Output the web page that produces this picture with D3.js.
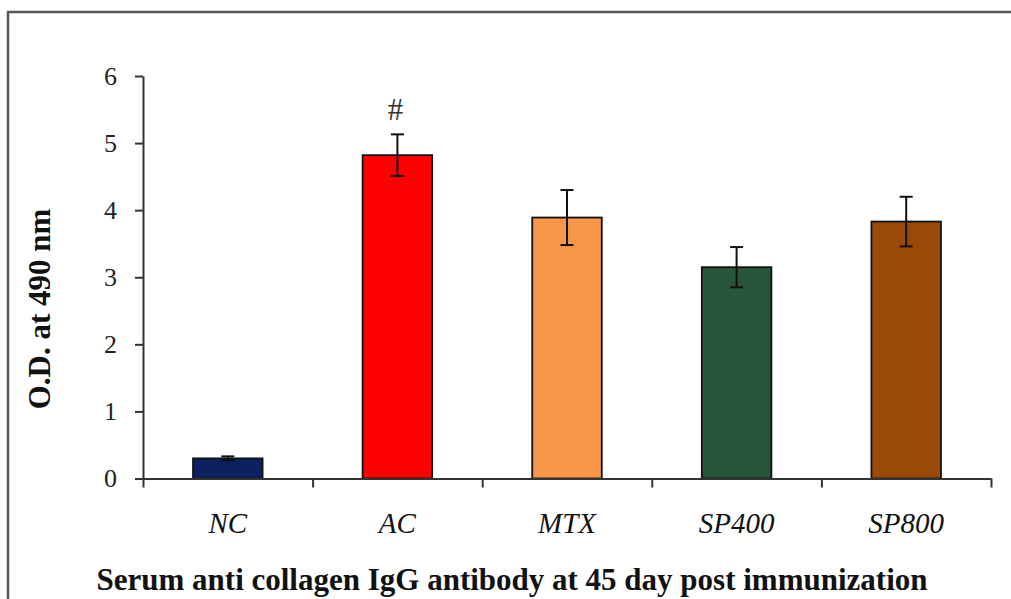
<!DOCTYPE html>
<html lang="en">
<head>
    <meta charset="UTF-8">
    <title>Serum anti collagen IgG antibody</title>
    <script src="https://d3js.org/d3.v7.min.js"></script>
    <style>
        body { margin: 0; background: #fff; }
    </style>
</head>
<body>
    <svg id="chart"></svg>

    <script>
      // data
      var categories = ["NC", "AC", "MTX", "SP400", "SP800"];
      var values = [0.30, 4.82, 3.89, 3.15, 3.83];
      var errors = [0.03, 0.31, 0.41, 0.30, 0.37];
      var marks = ["", "#", "", "", ""];
      var barColors = ["#0b2160", "#ff0000", "#f79646", "#27563a", "#9a4a08"];
      var yTicks = [0, 1, 2, 3, 4, 5, 6];

      var width = 1011, height = 599;
      // plot area (window.top is read-only, so no "top" here)
      var plotLeft = 143, plotRight = 991, plotTop = 76, plotBottom = 478.5;

      var svg = d3.select("#chart")
          .attr("width", width)
          .attr("height", height);

      // outer frame (right and bottom edges fall outside the picture)
      svg.append("rect")
          .attr("x", 8).attr("y", 12)
          .attr("width", 1100).attr("height", 700)
          .attr("fill", "none")
          .attr("stroke", "#555")
          .attr("stroke-width", 2.5);

      var x = d3.scaleBand()
          .domain(categories)
          .range([plotLeft, plotRight])
          .paddingInner(0.59)
          .paddingOuter(0.295);

      var y = d3.scaleLinear()
          .domain([0, 6])
          .range([plotBottom, plotTop]);

      // y axis
      var yAxis = svg.append("g")
          .attr("transform", "translate(" + plotLeft + ",0)")
          .call(d3.axisLeft(y).tickValues(yTicks).tickFormat(d3.format("d"))
              .tickSize(8).tickSizeOuter(0).tickPadding(18));
      yAxis.select(".domain").attr("stroke", "#333").attr("stroke-width", 2);
      yAxis.selectAll(".tick line").attr("stroke", "#333").attr("stroke-width", 2);
      yAxis.selectAll(".tick text")
          .attr("font-family", "'Liberation Serif', serif")
          .attr("font-size", 26)
          .attr("fill", "#222");

      // bars
      svg.selectAll(".bar")
          .data(categories)
        .enter().append("rect")
          .attr("class", "bar")
          .attr("x", function (d) { return x(d); })
          .attr("y", function (d, i) { return y(values[i]); })
          .attr("width", x.bandwidth())
          .attr("height", function (d, i) { return y(0) - y(values[i]); })
          .attr("fill", function (d, i) { return barColors[i]; })
          .attr("stroke", "#111")
          .attr("stroke-width", 1.8);

      // error bars
      var err = svg.selectAll(".err")
          .data(categories)
        .enter().append("g")
          .attr("class", "err")
          .attr("stroke", "#111")
          .attr("stroke-width", 2);
      err.append("line")
          .attr("x1", function (d) { return x(d) + x.bandwidth() / 2; })
          .attr("x2", function (d) { return x(d) + x.bandwidth() / 2; })
          .attr("y1", function (d, i) { return y(values[i] + errors[i]); })
          .attr("y2", function (d, i) { return y(values[i] - errors[i]); });
      err.append("line")
          .attr("x1", function (d) { return x(d) + x.bandwidth() / 2 - 6.5; })
          .attr("x2", function (d) { return x(d) + x.bandwidth() / 2 + 6.5; })
          .attr("y1", function (d, i) { return y(values[i] + errors[i]); })
          .attr("y2", function (d, i) { return y(values[i] + errors[i]); });
      err.append("line")
          .attr("x1", function (d) { return x(d) + x.bandwidth() / 2 - 6.5; })
          .attr("x2", function (d) { return x(d) + x.bandwidth() / 2 + 6.5; })
          .attr("y1", function (d, i) { return y(values[i] - errors[i]); })
          .attr("y2", function (d, i) { return y(values[i] - errors[i]); });

      // significance marks
      svg.selectAll(".mark")
          .data(categories)
        .enter().append("text")
          .attr("class", "mark")
          .attr("x", function (d) { return x(d) + x.bandwidth() / 2 - 2; })
          .attr("y", function (d, i) { return y(values[i] + errors[i]) - 14; })
          .attr("text-anchor", "middle")
          .attr("font-family", "'Liberation Serif', serif")
          .attr("font-size", 31)
          .attr("fill", "#333")
          .text(function (d, i) { return marks[i]; });

      // x axis: ticks at the category boundaries
      var xEdges = d3.scaleLinear().domain([0, categories.length]).range([plotLeft, plotRight]);
      var xAxis = svg.append("g")
          .attr("transform", "translate(0," + plotBottom + ")")
          .call(d3.axisBottom(xEdges).ticks(categories.length).tickSize(9).tickSizeOuter(0).tickFormat(""));
      xAxis.select(".domain").attr("stroke", "#333").attr("stroke-width", 2);
      xAxis.selectAll(".tick line").attr("stroke", "#333").attr("stroke-width", 2);

      // category labels
      svg.append("g")
          .attr("transform", "translate(0," + plotBottom + ")")
          .call(d3.axisBottom(x).tickSize(0).tickPadding(34))
          .call(function (g) { g.select(".domain").remove(); })
          .selectAll("text")
          .attr("font-family", "'Liberation Serif', serif")
          .attr("font-style", "italic")
          .attr("font-size", 29)
          .attr("fill", "#111");

      // axis titles
      svg.append("text")
          .attr("x", 512)
          .attr("y", 590)
          .attr("text-anchor", "middle")
          .attr("font-family", "'Liberation Serif', serif")
          .attr("font-weight", "bold")
          .attr("font-size", 31)
          .attr("textLength", 831)
          .attr("lengthAdjust", "spacingAndGlyphs")
          .attr("fill", "#111")
          .text("Serum anti collagen IgG antibody at 45 day post immunization");

      svg.append("text")
          .attr("transform", "translate(50,309) rotate(-90)")
          .attr("text-anchor", "middle")
          .attr("font-family", "'Liberation Serif', serif")
          .attr("font-weight", "bold")
          .attr("font-size", 31)
          .attr("fill", "#111")
          .text("O.D. at 490 nm");
    </script>
</body>
</html>
